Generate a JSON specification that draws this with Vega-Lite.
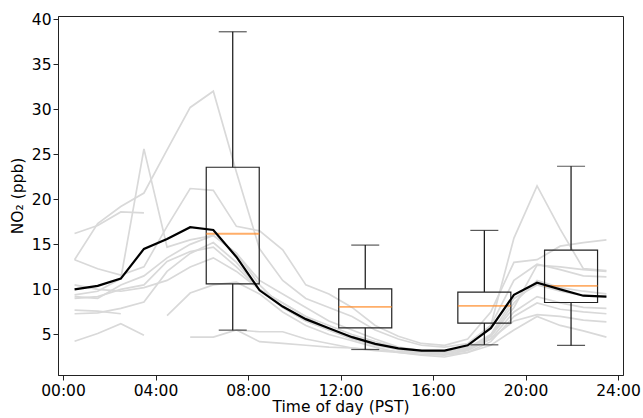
{
  "$schema": "https://vega.github.io/schema/vega-lite/v6.json",
  "autosize": {"type": "none"},
  "padding": {"left": 58, "top": 16, "right": 20, "bottom": 43},
  "width": 565,
  "height": 359,
  "background": "white",
  "config": {
    "font": "DejaVu Sans",
    "view": {"stroke": "#222", "strokeWidth": 1},
    "axis": {
      "grid": false,
      "domainColor": "#222",
      "tickColor": "#222",
      "tickSize": 5,
      "labelFontSize": 15.5,
      "labelColor": "#000",
      "titleFontSize": 15.5,
      "titleFontWeight": "normal",
      "titleColor": "#000",
      "labelFont": "DejaVu Sans",
      "titleFont": "DejaVu Sans"
    }
  },
  "datasets": {
    "gray": [
      {"s": "S1", "h": 0.5, "v": 13.3}, {"s": "S1", "h": 1.5, "v": 17.3}, {"s": "S1", "h": 2.5, "v": 19.2}, {"s": "S1", "h": 3.5, "v": 20.7}, {"s": "S1", "h": 4.5, "v": 25.5}, {"s": "S1", "h": 5.5, "v": 30.2}, {"s": "S1", "h": 6.5, "v": 32.0}, {"s": "S1", "h": 7.5, "v": 23.0}, {"s": "S1", "h": 8.5, "v": 14.5}, {"s": "S1", "h": 9.5, "v": 11.0}, {"s": "S1", "h": 10.5, "v": 9.0}, {"s": "S1", "h": 11.5, "v": 8.0}, {"s": "S1", "h": 12.5, "v": 7.0}, {"s": "S1", "h": 13.5, "v": 5.5}, {"s": "S1", "h": 14.5, "v": 4.5}, {"s": "S1", "h": 15.5, "v": 3.8}, {"s": "S1", "h": 16.5, "v": 3.6}, {"s": "S1", "h": 17.5, "v": 4.0}, {"s": "S1", "h": 18.5, "v": 6.0}, {"s": "S1", "h": 19.5, "v": 11.0}, {"s": "S1", "h": 20.5, "v": 12.8}, {"s": "S1", "h": 21.5, "v": 12.2}, {"s": "S1", "h": 22.5, "v": 11.5}, {"s": "S1", "h": 23.5, "v": 11.4},
      {"s": "S2", "h": 0.5, "v": 9.4}, {"s": "S2", "h": 1.5, "v": 9.8}, {"s": "S2", "h": 2.5, "v": 11.2}, {"s": "S2", "h": 3.5, "v": 25.6}, {"s": "S2", "h": 4.5, "v": 14.7}, {"s": "S2", "h": 5.5, "v": 15.5}, {"s": "S2", "h": 6.5, "v": 16.0}, {"s": "S2", "h": 7.5, "v": 14.0}, {"s": "S2", "h": 8.5, "v": 10.5}, {"s": "S2", "h": 9.5, "v": 8.0}, {"s": "S2", "h": 10.5, "v": 6.5}, {"s": "S2", "h": 11.5, "v": 5.5}, {"s": "S2", "h": 12.5, "v": 4.5}, {"s": "S2", "h": 13.5, "v": 4.0}, {"s": "S2", "h": 14.5, "v": 3.5}, {"s": "S2", "h": 15.5, "v": 3.2}, {"s": "S2", "h": 16.5, "v": 3.0}, {"s": "S2", "h": 17.5, "v": 3.5}, {"s": "S2", "h": 18.5, "v": 5.0}, {"s": "S2", "h": 19.5, "v": 9.0}, {"s": "S2", "h": 20.5, "v": 10.5}, {"s": "S2", "h": 21.5, "v": 9.8}, {"s": "S2", "h": 22.5, "v": 9.3}, {"s": "S2", "h": 23.5, "v": 9.2},
      {"s": "S3", "h": 0.5, "v": 16.2}, {"s": "S3", "h": 1.5, "v": 17.1}, {"s": "S3", "h": 2.5, "v": 18.6}, {"s": "S3", "h": 3.5, "v": 18.5},
      {"s": "S4", "h": 0.5, "v": 13.3}, {"s": "S4", "h": 1.5, "v": 12.3}, {"s": "S4", "h": 2.5, "v": 11.6}, {"s": "S4", "h": 3.5, "v": 12.5}, {"s": "S4", "h": 4.5, "v": 17.0}, {"s": "S4", "h": 5.5, "v": 21.2}, {"s": "S4", "h": 6.5, "v": 21.0}, {"s": "S4", "h": 7.5, "v": 17.0}, {"s": "S4", "h": 8.5, "v": 16.5}, {"s": "S4", "h": 9.5, "v": 14.4}, {"s": "S4", "h": 10.5, "v": 10.5}, {"s": "S4", "h": 11.5, "v": 9.5}, {"s": "S4", "h": 12.5, "v": 8.0}, {"s": "S4", "h": 13.5, "v": 6.0}, {"s": "S4", "h": 14.5, "v": 4.8}, {"s": "S4", "h": 15.5, "v": 4.0}, {"s": "S4", "h": 16.5, "v": 3.8}, {"s": "S4", "h": 17.5, "v": 4.5}, {"s": "S4", "h": 18.5, "v": 7.5}, {"s": "S4", "h": 19.5, "v": 13.0}, {"s": "S4", "h": 20.5, "v": 13.3}, {"s": "S4", "h": 21.5, "v": 14.8}, {"s": "S4", "h": 22.5, "v": 15.2}, {"s": "S4", "h": 23.5, "v": 15.5},
      {"s": "S5", "h": 0.5, "v": 9.0}, {"s": "S5", "h": 1.5, "v": 9.2}, {"s": "S5", "h": 2.5, "v": 10.0}, {"s": "S5", "h": 3.5, "v": 10.5}, {"s": "S5", "h": 4.5, "v": 13.1}, {"s": "S5", "h": 5.5, "v": 14.2}, {"s": "S5", "h": 6.5, "v": 14.7}, {"s": "S5", "h": 7.5, "v": 12.5}, {"s": "S5", "h": 8.5, "v": 10.0}, {"s": "S5", "h": 9.5, "v": 8.5}, {"s": "S5", "h": 10.5, "v": 7.0}, {"s": "S5", "h": 11.5, "v": 5.5}, {"s": "S5", "h": 12.5, "v": 4.5}, {"s": "S5", "h": 13.5, "v": 3.8}, {"s": "S5", "h": 14.5, "v": 3.3}, {"s": "S5", "h": 15.5, "v": 3.0}, {"s": "S5", "h": 16.5, "v": 2.8}, {"s": "S5", "h": 17.5, "v": 3.3}, {"s": "S5", "h": 18.5, "v": 4.8}, {"s": "S5", "h": 19.5, "v": 8.0}, {"s": "S5", "h": 20.5, "v": 12.7}, {"s": "S5", "h": 21.5, "v": 12.5}, {"s": "S5", "h": 22.5, "v": 12.2}, {"s": "S5", "h": 23.5, "v": 12.0},
      {"s": "S6", "h": 0.5, "v": 9.2}, {"s": "S6", "h": 1.5, "v": 9.0}, {"s": "S6", "h": 2.5, "v": 10.5}, {"s": "S6", "h": 3.5, "v": 11.5}, {"s": "S6", "h": 4.5, "v": 13.5}, {"s": "S6", "h": 5.5, "v": 15.0}, {"s": "S6", "h": 6.5, "v": 16.0}, {"s": "S6", "h": 7.5, "v": 14.0}, {"s": "S6", "h": 8.5, "v": 11.0}, {"s": "S6", "h": 9.5, "v": 9.5}, {"s": "S6", "h": 10.5, "v": 8.0}, {"s": "S6", "h": 11.5, "v": 6.5}, {"s": "S6", "h": 12.5, "v": 5.5}, {"s": "S6", "h": 13.5, "v": 4.5}, {"s": "S6", "h": 14.5, "v": 3.6}, {"s": "S6", "h": 15.5, "v": 3.2}, {"s": "S6", "h": 16.5, "v": 3.0}, {"s": "S6", "h": 17.5, "v": 3.6}, {"s": "S6", "h": 18.5, "v": 6.0}, {"s": "S6", "h": 19.5, "v": 15.7}, {"s": "S6", "h": 20.5, "v": 21.5}, {"s": "S6", "h": 21.5, "v": 16.7}, {"s": "S6", "h": 22.5, "v": 12.3}, {"s": "S6", "h": 23.5, "v": 12.1},
      {"s": "S7", "h": 0.5, "v": 7.3}, {"s": "S7", "h": 1.5, "v": 7.4}, {"s": "S7", "h": 2.5, "v": 7.9}, {"s": "S7", "h": 3.5, "v": 8.6}, {"s": "S7", "h": 4.5, "v": 12.0}, {"s": "S7", "h": 5.5, "v": 14.0}, {"s": "S7", "h": 6.5, "v": 15.2}, {"s": "S7", "h": 7.5, "v": 13.0}, {"s": "S7", "h": 8.5, "v": 10.0}, {"s": "S7", "h": 9.5, "v": 8.0}, {"s": "S7", "h": 10.5, "v": 6.5}, {"s": "S7", "h": 11.5, "v": 5.5}, {"s": "S7", "h": 12.5, "v": 4.8}, {"s": "S7", "h": 13.5, "v": 4.0}, {"s": "S7", "h": 14.5, "v": 3.4}, {"s": "S7", "h": 15.5, "v": 3.0}, {"s": "S7", "h": 16.5, "v": 2.8}, {"s": "S7", "h": 17.5, "v": 3.2}, {"s": "S7", "h": 18.5, "v": 4.5}, {"s": "S7", "h": 19.5, "v": 7.5}, {"s": "S7", "h": 20.5, "v": 9.2}, {"s": "S7", "h": 21.5, "v": 8.5}, {"s": "S7", "h": 22.5, "v": 8.0}, {"s": "S7", "h": 23.5, "v": 7.9},
      {"s": "S8", "h": 0.5, "v": 4.25}, {"s": "S8", "h": 1.5, "v": 5.1}, {"s": "S8", "h": 2.5, "v": 6.2}, {"s": "S8", "h": 3.5, "v": 4.9},
      {"s": "S9", "h": 4.5, "v": 7.1}, {"s": "S9", "h": 5.5, "v": 9.6}, {"s": "S9", "h": 6.5, "v": 10.5}, {"s": "S9", "h": 7.5, "v": 10.8}, {"s": "S9", "h": 8.5, "v": 9.5}, {"s": "S9", "h": 9.5, "v": 7.5}, {"s": "S9", "h": 10.5, "v": 6.0}, {"s": "S9", "h": 11.5, "v": 5.0}, {"s": "S9", "h": 12.5, "v": 4.3}, {"s": "S9", "h": 13.5, "v": 3.6}, {"s": "S9", "h": 14.5, "v": 3.0}, {"s": "S9", "h": 15.5, "v": 2.7}, {"s": "S9", "h": 16.5, "v": 2.5}, {"s": "S9", "h": 17.5, "v": 3.0}, {"s": "S9", "h": 18.5, "v": 4.2}, {"s": "S9", "h": 19.5, "v": 7.0}, {"s": "S9", "h": 20.5, "v": 8.5}, {"s": "S9", "h": 21.5, "v": 7.8}, {"s": "S9", "h": 22.5, "v": 7.5}, {"s": "S9", "h": 23.5, "v": 7.3},
      {"s": "S10", "h": 5.5, "v": 4.7}, {"s": "S10", "h": 6.5, "v": 4.7}, {"s": "S10", "h": 7.5, "v": 5.5}, {"s": "S10", "h": 8.5, "v": 4.2}, {"s": "S10", "h": 9.5, "v": 4.0}, {"s": "S10", "h": 10.5, "v": 3.8}, {"s": "S10", "h": 11.5, "v": 3.6}, {"s": "S10", "h": 12.5, "v": 3.5}, {"s": "S10", "h": 13.5, "v": 3.3}, {"s": "S10", "h": 14.5, "v": 3.1}, {"s": "S10", "h": 15.5, "v": 3.0}, {"s": "S10", "h": 16.5, "v": 3.0}, {"s": "S10", "h": 17.5, "v": 3.5}, {"s": "S10", "h": 18.5, "v": 4.5}, {"s": "S10", "h": 19.5, "v": 6.5}, {"s": "S10", "h": 20.5, "v": 7.2}, {"s": "S10", "h": 21.5, "v": 7.0}, {"s": "S10", "h": 22.5, "v": 6.6}, {"s": "S10", "h": 23.5, "v": 6.4},
      {"s": "S11", "h": 0.5, "v": 10.5}, {"s": "S11", "h": 1.5, "v": 10.0}, {"s": "S11", "h": 2.5, "v": 9.8}, {"s": "S11", "h": 3.5, "v": 10.2}, {"s": "S11", "h": 4.5, "v": 11.0}, {"s": "S11", "h": 5.5, "v": 12.5}, {"s": "S11", "h": 6.5, "v": 13.5}, {"s": "S11", "h": 7.5, "v": 12.0}, {"s": "S11", "h": 8.5, "v": 10.0}, {"s": "S11", "h": 9.5, "v": 8.5}, {"s": "S11", "h": 10.5, "v": 7.0}, {"s": "S11", "h": 11.5, "v": 6.0}, {"s": "S11", "h": 12.5, "v": 5.0}, {"s": "S11", "h": 13.5, "v": 4.2}, {"s": "S11", "h": 14.5, "v": 3.5}, {"s": "S11", "h": 15.5, "v": 3.2}, {"s": "S11", "h": 16.5, "v": 3.0}, {"s": "S11", "h": 17.5, "v": 3.4}, {"s": "S11", "h": 18.5, "v": 4.8}, {"s": "S11", "h": 19.5, "v": 8.5}, {"s": "S11", "h": 20.5, "v": 11.0}, {"s": "S11", "h": 21.5, "v": 10.2}, {"s": "S11", "h": 22.5, "v": 9.8}, {"s": "S11", "h": 23.5, "v": 9.5},
      {"s": "S12", "h": 0.5, "v": 7.7}, {"s": "S12", "h": 1.5, "v": 7.6}, {"s": "S12", "h": 2.5, "v": 7.3},
      {"s": "S13", "h": 7.5, "v": 5.5}, {"s": "S13", "h": 8.5, "v": 5.3}, {"s": "S13", "h": 9.5, "v": 5.3}, {"s": "S13", "h": 10.5, "v": 4.5}, {"s": "S13", "h": 11.5, "v": 4.0}, {"s": "S13", "h": 12.5, "v": 3.5}, {"s": "S13", "h": 13.5, "v": 3.2}, {"s": "S13", "h": 14.5, "v": 3.0}, {"s": "S13", "h": 15.5, "v": 2.8}, {"s": "S13", "h": 16.5, "v": 2.7}, {"s": "S13", "h": 17.5, "v": 3.0}, {"s": "S13", "h": 18.5, "v": 3.8}, {"s": "S13", "h": 19.5, "v": 5.5}, {"s": "S13", "h": 20.5, "v": 7.0}, {"s": "S13", "h": 21.5, "v": 6.0}, {"s": "S13", "h": 22.5, "v": 5.4}, {"s": "S13", "h": 23.5, "v": 4.7}
    ],
    "mean": [
      {"h": 0.5, "v": 10.0}, {"h": 1.5, "v": 10.4}, {"h": 2.5, "v": 11.2}, {"h": 3.5, "v": 14.5}, {"h": 4.5, "v": 15.6}, {"h": 5.5, "v": 16.9}, {"h": 6.5, "v": 16.6}, {"h": 7.5, "v": 13.6}, {"h": 8.5, "v": 9.9}, {"h": 9.5, "v": 8.1}, {"h": 10.5, "v": 6.7}, {"h": 11.5, "v": 5.7}, {"h": 12.5, "v": 4.7}, {"h": 13.5, "v": 3.95}, {"h": 14.5, "v": 3.45}, {"h": 15.5, "v": 3.2}, {"h": 16.5, "v": 3.2}, {"h": 17.5, "v": 3.8}, {"h": 18.5, "v": 5.7}, {"h": 19.5, "v": 9.4}, {"h": 20.5, "v": 10.75}, {"h": 21.5, "v": 10.0}, {"h": 22.5, "v": 9.3}, {"h": 23.5, "v": 9.2}
    ],
    "box": [
      {"h": 7.34, "lo": 5.48, "q1": 10.62, "med": 16.18, "q3": 23.56, "hi": 38.6},
      {"h": 13.07, "lo": 3.33, "q1": 5.74, "med": 8.07, "q3": 10.07, "hi": 14.92},
      {"h": 18.22, "lo": 3.85, "q1": 6.26, "med": 8.18, "q3": 9.7, "hi": 16.55},
      {"h": 21.97, "lo": 3.78, "q1": 8.55, "med": 10.4, "q3": 14.37, "hi": 23.67}
    ]
  },
  "layer": [
    {
      "data": {"name": "gray"},
      "mark": {"type": "line", "color": "#d9d9d9", "strokeWidth": 1.7, "clip": true},
      "encoding": {
        "x": {"field": "h", "type": "quantitative", "scale": {"domain": [0, 24], "nice": false, "zero": false},
          "axis": {"values": [0, 4, 8, 12, 16, 20, 24], "labelExpr": "(datum.value < 10 ? '0' : '') + datum.value + ':00'", "title": "Time of day (PST)", "titlePadding": 1, "labelPadding": 3}},
        "y": {"field": "v", "type": "quantitative", "scale": {"domain": [0.5, 40.35], "nice": false, "zero": false},
          "axis": {"values": [5, 10, 15, 20, 25, 30, 35, 40], "title": "NO₂ (ppb)", "titlePadding": 6, "labelPadding": 2}},
        "detail": {"field": "s"}
      }
    },
    {
      "data": {"name": "box"},
      "mark": {"type": "rule", "color": "#111", "strokeWidth": 1.2},
      "encoding": {
        "x": {"field": "h", "type": "quantitative"},
        "y": {"field": "lo", "type": "quantitative"},
        "y2": {"field": "q1"}
      }
    },
    {
      "data": {"name": "box"},
      "mark": {"type": "rule", "color": "#111", "strokeWidth": 1.2},
      "encoding": {
        "x": {"field": "h", "type": "quantitative"},
        "y": {"field": "q3", "type": "quantitative"},
        "y2": {"field": "hi"}
      }
    },
    {
      "data": {"name": "box"},
      "mark": {"type": "tick", "orient": "horizontal", "color": "#111", "size": 28, "thickness": 1.2},
      "encoding": {
        "x": {"field": "h", "type": "quantitative"},
        "y": {"field": "lo", "type": "quantitative"}
      }
    },
    {
      "data": {"name": "box"},
      "mark": {"type": "tick", "orient": "horizontal", "color": "#111", "size": 28, "thickness": 1.2},
      "encoding": {
        "x": {"field": "h", "type": "quantitative"},
        "y": {"field": "hi", "type": "quantitative"}
      }
    },
    {
      "data": {"name": "box"},
      "mark": {"type": "bar", "width": 53, "fill": null, "fillOpacity": 0, "stroke": "#222", "strokeWidth": 1.2},
      "encoding": {
        "x": {"field": "h", "type": "quantitative"},
        "y": {"field": "q1", "type": "quantitative"},
        "y2": {"field": "q3"}
      }
    },
    {
      "data": {"name": "box"},
      "mark": {"type": "tick", "orient": "horizontal", "color": "#ff8c2a", "size": 53, "thickness": 1.8},
      "encoding": {
        "x": {"field": "h", "type": "quantitative"},
        "y": {"field": "med", "type": "quantitative"}
      }
    },
    {
      "data": {"name": "mean"},
      "mark": {"type": "line", "color": "#000", "strokeWidth": 2.2},
      "encoding": {
        "x": {"field": "h", "type": "quantitative"},
        "y": {"field": "v", "type": "quantitative"}
      }
    }
  ]
}
